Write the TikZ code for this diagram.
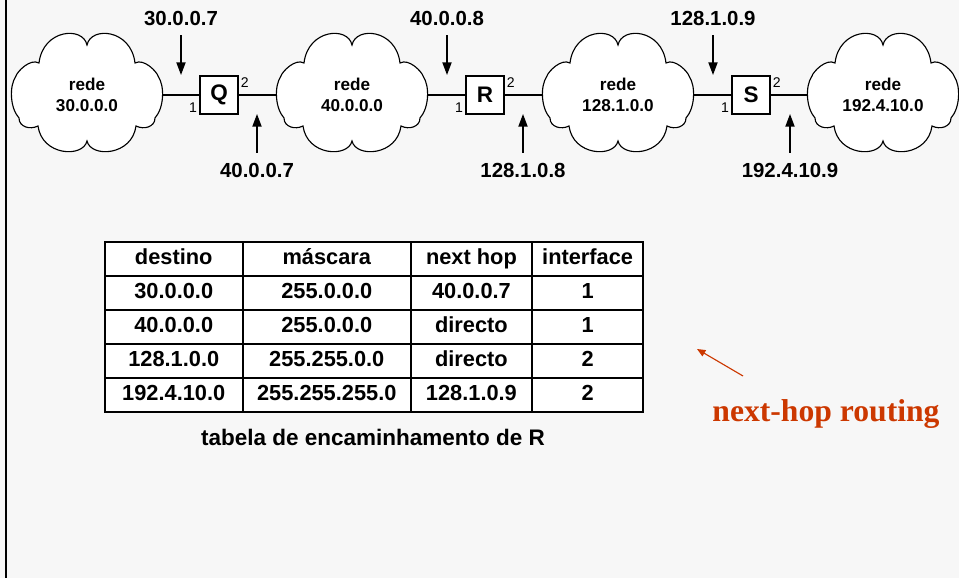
\documentclass[tikz,border=0pt]{standalone}
\usepackage{fontspec}
\setmainfont{Liberation Sans}
\newfontfamily\timesfont{Liberation Serif}
\usepackage{tikz}
\usetikzlibrary{arrows.meta}
\usetikzlibrary{matrix}

\definecolor{paper}{RGB}{247,247,247}
\definecolor{hoprot}{RGB}{204,56,0}

\tikzset{nuvem/.pic={
  \draw[line width=0.8pt, fill=white] (0,-49)
    .. controls (-4,-68) and (-44,-65) .. (-48,-31)
    .. controls (-57,-36) and (-70,-22) .. (-71,-18)
    .. controls (-78,-8) and (-77,14) .. (-68,24)
    .. controls (-68,33) and (-57,36) .. (-49,32)
    .. controls (-45,62) and (-4,64) .. (0,47)
    .. controls (4,64) and (45,62) .. (49,32)
    .. controls (57,36) and (68,33) .. (68,24)
    .. controls (77,14) and (78,-8) .. (71,-18)
    .. controls (70,-22) and (57,-36) .. (48,-31)
    .. controls (44,-65) and (4,-68) .. (0,-49) -- cycle;
}}

\begin{document}
\begin{tikzpicture}[x=0.025cm, y=-0.025cm,
                   every node/.style={inner sep=2pt, font=\bfseries},
                   rede/.style={minimum width=3.78cm, minimum height=2.85cm,
                                inner sep=0pt, align=center,
                                font=\bfseries\fontsize{12.2}{14.5}\selectfont},
                   router/.style={draw, fill=white, line width=0.8pt, minimum size=0.95cm,
                                  inner sep=0pt, font=\bfseries\fontsize{16}{18}\selectfont},
                   porta/.style={inner sep=1.5pt, font=\fontsize{10}{12}\selectfont},
                   ip/.style={font=\bfseries\fontsize{14.5}{17}\selectfont},
                   ptr/.style={-{Triangle[length=9pt,width=6.5pt]}, line width=1pt},
                   cell/.style={draw, line width=1.2pt, minimum height=0.85cm, inner sep=0pt,
                                text height=11pt, text depth=3.5pt,
                                font=\bfseries\fontsize{15.5}{18}\selectfont}]

\fill[paper] (0,0) rectangle (959,578);
\useasboundingbox (0,0) rectangle (959,578);
\draw[line width=1.4pt] (6,0) -- (6,578);

\pic at (87,94) {nuvem};
\pic at (352,94) {nuvem};
\pic at (618,94) {nuvem};
\pic at (883,94) {nuvem};

\node[rede] (rede30) at (87,95) {rede\\30.0.0.0};
\node[rede] (rede40) at (352,95) {rede\\40.0.0.0};
\node[rede] (rede128) at (618,95) {rede\\128.1.0.0};
\node[rede] (rede192) at (883,95) {rede\\192.4.10.0};

\node[router] (Q) at (219,95) {Q};
\node[router] (R) at (485,95) {R};
\node[router] (S) at (751,95) {S};

\draw[line width=0.8pt] (rede30) -- (Q) -- (rede40) -- (R) -- (rede128) -- (S) -- (rede192);

\node[porta, anchor=south east] (Q1) at (Q.south west) {1};
\node[porta, anchor=north west] (Q2) at (Q.north east) {2};
\node[porta, anchor=south east] (R1) at (R.south west) {1};
\node[porta, anchor=north west] (R2) at (R.north east) {2};
\node[porta, anchor=south east] (S1) at (S.south west) {1};
\node[porta, anchor=north west] (S2) at (S.north east) {2};

\node[ip] (ipQa) at (181,18) {30.0.0.7};
\node[ip] (ipQb) at (257,170) {40.0.0.7};
\node[ip] (ipRa) at (447,18) {40.0.0.8};
\node[ip] (ipRb) at (523,170) {128.1.0.8};
\node[ip] (ipSa) at (713,18) {128.1.0.9};
\node[ip] (ipSb) at (790,170) {192.4.10.9};

\coordinate (tQa) at (181,75);
\coordinate (tQb) at (257,114);
\coordinate (tRa) at (447,75);
\coordinate (tRb) at (523,114);
\coordinate (tSa) at (713,75);
\coordinate (tSb) at (790,114);

\draw[ptr, shorten <=5pt] (ipQa) -- (tQa);
\draw[ptr, shorten <=5pt] (ipQb) -- (tQb);
\draw[ptr, shorten <=5pt] (ipRa) -- (tRa);
\draw[ptr, shorten <=5pt] (ipRb) -- (tRb);
\draw[ptr, shorten <=5pt] (ipSa) -- (tSa);
\draw[ptr, shorten <=5pt] (ipSb) -- (tSb);

\matrix (tabR) [matrix of nodes, nodes={cell}, fill=white,
                column sep=-1.2pt, row sep=-1.2pt, inner sep=0pt,
                column 1/.style={nodes={minimum width=3.45cm}},
                column 2/.style={nodes={minimum width=4.2cm}},
                column 3/.style={nodes={minimum width=3.03cm}},
                column 4/.style={nodes={minimum width=2.78cm}}] at (374,327) {
destino & máscara & next hop & interface \\
30.0.0.0 & 255.0.0.0 & 40.0.0.7 & 1 \\
40.0.0.0 & 255.0.0.0 & directo & 1 \\
128.1.0.0 & 255.255.0.0 & directo & 2 \\
192.4.10.0 & 255.255.255.0 & 128.1.0.9 & 2 \\
};

\node[font=\bfseries\fontsize{16}{19}\selectfont] (legenda) at (373,437) {tabela de encaminhamento de R};

\node[text=hoprot, font=\timesfont\bfseries\fontsize{22.5}{26}\selectfont] (nexthop) at (826,414) {next-hop routing};
\coordinate (nhtail) at (743,376);
\coordinate (nhtip) at (697,349);
\draw[-{Triangle[length=6pt,width=5pt]}, hoprot, line width=0.8pt] (nhtail) -- (nhtip);

\end{tikzpicture}
\end{document}
